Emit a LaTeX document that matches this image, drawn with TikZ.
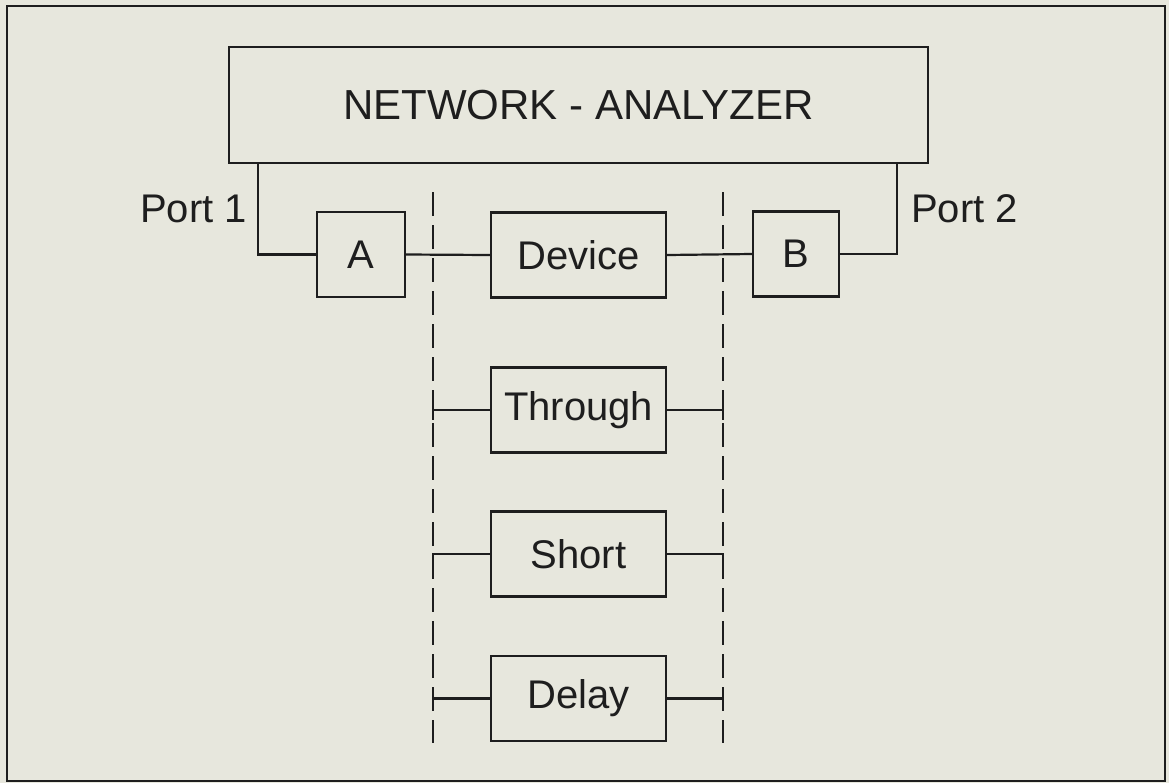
\documentclass[tikz,border=0pt]{standalone}
\usepackage{fontspec}
\setmainfont{Liberation Sans}
\usetikzlibrary{calc}
\definecolor{paper}{RGB}{231,231,221}
\definecolor{ink}{RGB}{30,30,30}
\tikzset{
  blk/.style={draw=ink,line width=1.1pt,minimum width=#1,minimum height=42.5pt,inner sep=0pt,text=ink,font=\fontsize{20}{24}\selectfont},
  wire/.style={draw=ink,line width=1.1pt},
  cut/.style={draw=ink,line width=1.1pt,dash pattern=on 12pt off 4.5pt},
  portlbl/.style={inner sep=0pt,text=ink,font=\fontsize{20}{24}\selectfont},
}

\begin{document}
\begin{tikzpicture}[x=0.5pt,y=-0.5pt]
\fill[paper] (0,0) rectangle (1169,783);
\useasboundingbox (0,0) rectangle (1169,783);
\draw[ink,line width=1.4pt] (7,6) rectangle (1165,781);
\node[blk=349.5pt,minimum height=58pt,font=\fontsize{21}{25}\selectfont] (na) at (578.5,105) {NETWORK - ANALYZER};
\node[blk=44pt] (a) at (361,254.5) {A};
\node[blk=87.5pt] (dev) at (578.5,255) {Device};
\node[blk=43pt] (b) at (796,254) {B};
\node[blk=87.5pt] (thr) at (578.5,410) {Through};
\node[blk=87.5pt] (sht) at (578.5,554) {Short};
\node[blk=87.5pt] (dly) at (578.5,698.5) {Delay};
% reference planes
\coordinate (c1t) at (433,192); \coordinate (c1b) at (433,743);
\coordinate (c2t) at (723,192); \coordinate (c2b) at (723,743);
\draw[cut] (c1t)--(c1b);
\draw[cut] (c2t)--(c2b);
% ports
\coordinate (p1) at (na.south -| 258,0);
\coordinate (p2) at (na.south -| 897,0);
\draw[wire] (p1) |- (a.west) node[portlbl,pos=0.25,left=5pt]{Port 1};
\draw[wire] (p2) |- (b.east) node[portlbl,pos=0.25,right=6.5pt]{Port 2};
\draw[wire] (a.east)--(dev.west);
\draw[wire] (dev.east)--(b.west);
% standards
\draw[wire] (thr.west)--(thr.west -| c1t) +(0,-10)--+(0,10);
\draw[wire] (thr.east)--(thr.east -| c2t) +(0,-10)--+(0,10);
\draw[wire] (sht.west)--(sht.west -| c1t)--++(0,25);
\draw[wire] (sht.east)--(sht.east -| c2t)--++(0,25);
\draw[wire] (dly.west)--(dly.west -| c1t) +(0,-10)--+(0,10);
\draw[wire] (dly.east)--(dly.east -| c2t) +(0,-10)--+(0,10);
\end{tikzpicture}
\end{document}
